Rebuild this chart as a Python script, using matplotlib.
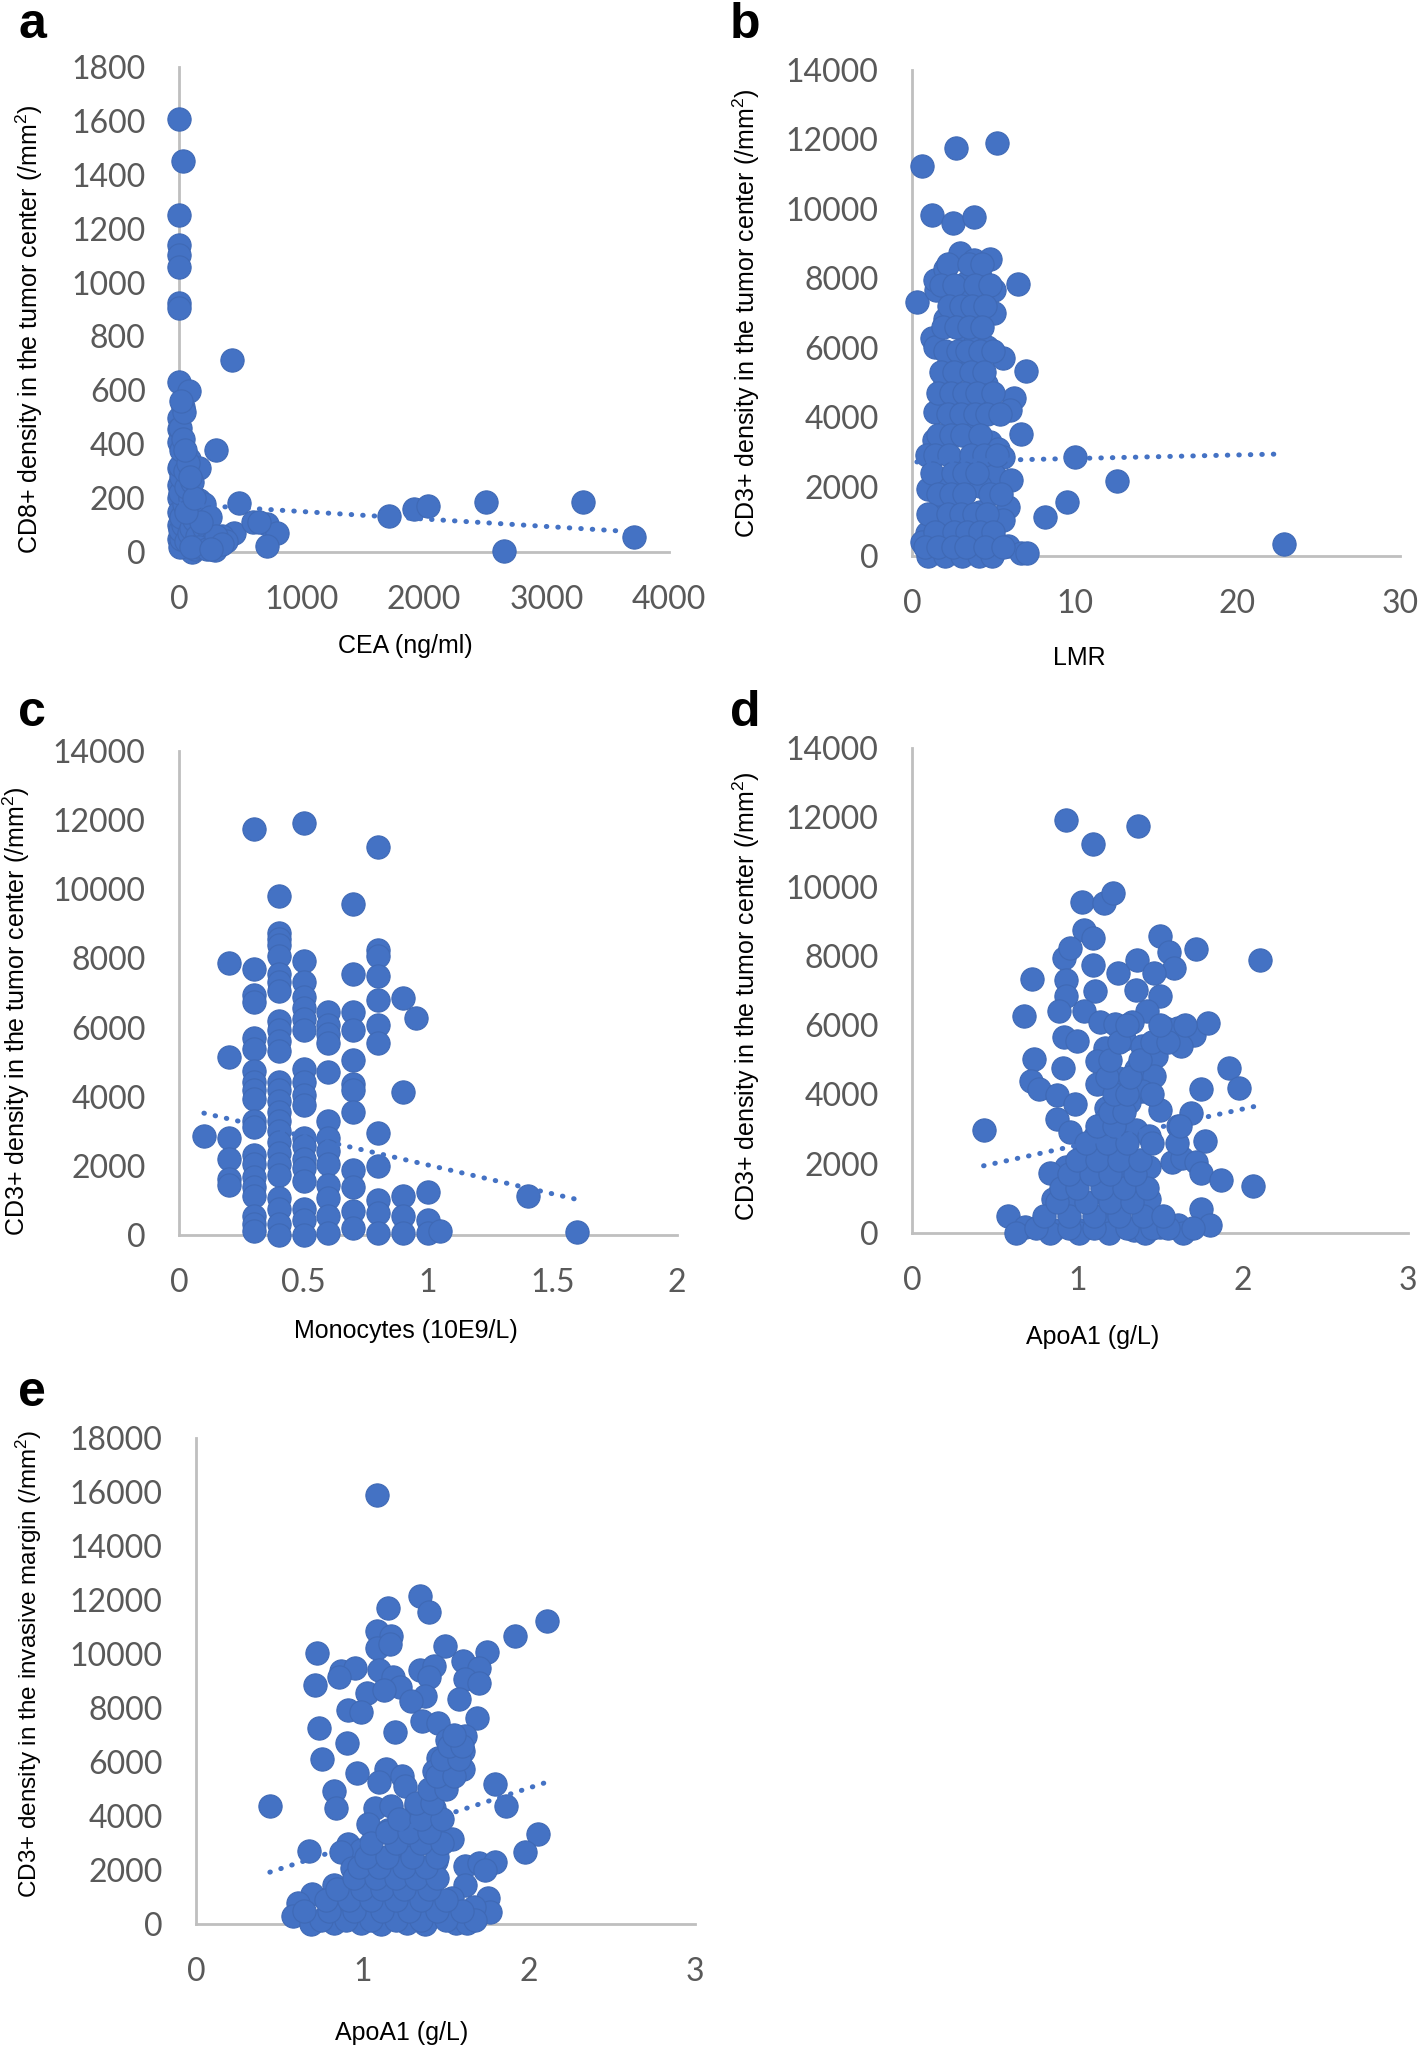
import numpy as np
import matplotlib.pyplot as plt

plt.rcParams['font.family'] = ['Liberation Sans', 'DejaVu Sans']
plt.rcParams['mathtext.default'] = 'regular'

BLUE = '#4472C4'
GREY_TXT = '#595959'
GREY_AX = '#BFBFBF'

# ---- panel a: CEA vs CD8+ (tumor center)
cea_x = [0, 30, 0, 0, 0, 0, 0, 0, 430, 0, 85, 30, 0, 0, 0, 40, 85, 160, 300,
         0, 0, 0, 0, 0, 0, 160, 493, 1718, 1922, 2033, 2508, 3295, 3711, 2657,
         449, 605, 716, 798, 716, 290, 104,
         10, 20, 5, 30, 15, 40, 10, 20, 5, 15, 10, 60, 80, 100, 120, 140, 90, 60,
         110, 150, 180, 200, 220, 250, 280, 130, 160, 230, 50, 70, 100, 40, 20,
         350, 380, 650, 200, 250, 300, 350, 260, 180, 60, 120, 90, 30, 50]
cea_y = [1607, 1451, 1250, 1141, 1101, 1056, 924, 905, 712, 632, 598, 538, 498,
         458, 410, 362, 345, 310, 378, 313, 250, 200, 150, 100, 50, 193, 182,
         132, 161, 169, 185, 185, 56, 5, 72, 112, 104, 72, 21, 8, 0,
         20, 50, 80, 100, 130, 180, 220, 280, 320, 380, 460, 40, 70, 90, 120,
         150, 200, 240, 260, 60, 30, 90, 140, 70, 40, 10, 20, 10, 300, 330, 20,
         520, 560, 60, 40, 110, 180, 130, 60, 30, 10, 110, 150, 200, 280, 420, 380]
cea_trend_x = [0, 3711]
cea_trend_y = [178, 75]

# ---- panel b: LMR vs CD3+ (tumor center)
lmr_x = [0.6, 2.7, 5.2, 1.25, 2.55, 3.8, 0.33, 1.5, 1.44, 2.05, 2.97, 3.8, 4.77,
         4.2, 3.4, 2.75, 5.05, 6.5, 2.0, 4.2, 5.05, 1.25, 1.44, 3.1, 3.9, 4.6,
         5.6, 7.0, 2.0, 3.1, 4.55, 2.55, 6.3, 6.0, 1.44, 3.1, 4.77, 6.7, 1.36,
         2.0, 3.66, 4.77, 5.3, 0.9, 10.0, 3.1, 5.6, 0.97, 2.0, 5.05, 6.1, 4.2,
         12.6, 9.5, 8.15, 1.44, 2.8, 5.9, 5.6, 4.2, 0.9, 0.6, 2.0, 3.66, 5.3,
         5.9, 6.7, 7.1, 22.85, 1.0, 2.0, 3.1, 4.1, 4.9,
         2.2, 3.5, 4.3, 1.8, 2.6, 3.9, 4.8, 2.3, 3.0, 3.7, 4.5, 1.9, 2.7, 3.5,
         4.3, 2.0, 2.8, 3.4, 4.2, 5.0, 1.8, 2.6, 3.6, 4.4, 1.6, 2.4, 3.2, 4.0,
         5.0, 2.2, 3.0, 3.9, 4.6, 5.4, 1.6, 2.4, 3.1, 4.2, 1.4, 2.3, 3.6, 4.4,
         5.2, 1.2, 2.5, 3.2, 4.0, 1.6, 2.4, 3.2, 4.8, 5.5, 1.0, 2.2, 3.0, 3.8,
         4.6, 1.4, 2.6, 3.4, 4.2, 5.0, 0.8, 1.6, 2.5, 3.3, 4.5, 5.6]
lmr_y = [11240, 11750, 11900, 9810, 9590, 9775, 7310, 7675, 7960, 8275, 8740,
         8525, 8560, 8025, 7900, 7525, 7650, 7840, 6840, 7025, 7000, 6275, 6025,
         6525, 6150, 6025, 5710, 5340, 5025, 5400, 4960, 4650, 4550, 4210, 4150,
         4025, 4150, 3525, 3340, 3150, 3525, 3275, 3090, 2900, 2860, 2650, 2840,
         1940, 2150, 2340, 2175, 2025, 2150, 1560, 1110, 1210, 1525, 1400, 1025,
         1275, 650, 400, 525, 650, 340, 275, 90, 90, 360, 0, 0, 0, 0, 0,
         8400, 8400, 8400, 7800, 7800, 7800, 7800, 7200, 7200, 7200, 7200, 6600,
         6600, 6600, 6600, 5900, 5900, 5900, 5900, 5900, 5300, 5300, 5300, 5300,
         4700, 4700, 4700, 4700, 4700, 4100, 4100, 4100, 4100, 4100, 3500, 3500,
         3500, 3500, 2900, 2900, 2900, 2900, 2900, 2400, 2400, 2400, 2400, 1800,
         1800, 1800, 1800, 1800, 1200, 1200, 1200, 1200, 1200, 700, 700, 700, 700,
         700, 250, 250, 250, 250, 250, 250]
lmr_trend_x = [0.3, 22.85]
lmr_trend_y = [2710, 2940]

# ---- panel c: monocytes vs CD3+ (tumor center)
mono_x = ([0.1] + [0.2] * 6 + [0.3] * 20 + [0.4] * 26 + [0.5] * 19 + [0.6] * 13
          + [0.7] * 12 + [0.8] * 12 + [0.9] * 5 + [0.95] + [1.0] * 3 + [1.05, 1.4, 1.6])
mono_y = [2875,
          7875, 5150, 2810, 2190, 1625, 1440,
          11750, 7690, 6940, 6750, 5690, 5375, 4750, 4440, 4190, 3940, 3310, 3125,
          2310, 2060, 1690, 1375, 1125, 560, 310, 125,
          9810, 8750, 8560, 8375, 8060, 7560, 7310, 7060, 6190, 5940, 5625, 5310,
          4440, 4190, 3875, 3560, 3310, 3000, 2690, 2375, 2060, 1750, 1060, 750,
          310, 0,
          11910, 7940, 7310, 6875, 6560, 6250, 5940, 4810, 4440, 4060, 3750, 2810,
          2560, 2190, 1940, 1560, 750, 440, 0,
          6440, 6060, 5810, 5560, 4710, 3310, 2810, 2440, 2060, 1440, 1060, 560, 60,
          9560, 7560, 6440, 5940, 5060, 4375, 4190, 3560, 1875, 1375, 690, 190,
          11220, 8250, 8060, 7500, 6810, 6060, 5560, 2940, 2000, 1000, 625, 60,
          6850, 4150, 1125, 560, 60,
          6275,
          1250, 440, 60,
          125, 1125, 90]
mono_trend_x = [0.1, 1.6]
mono_trend_y = [3525, 1025]

# ---- panel d: ApoA1 vs CD3+ (tumor center)
apo_d_x = [0.93, 1.367, 1.094, 1.026, 1.163, 1.217, 1.04, 1.094, 0.918, 0.958,
           0.727, 0.93, 1.094, 1.244, 1.108, 1.358, 1.497, 1.557, 1.585, 1.462,
           1.715, 2.107, 0.93, 0.89, 1.04, 0.68, 1.353, 1.497, 1.42, 1.14, 1.23,
           1.33, 0.918, 1.0, 1.53, 1.61, 1.705, 1.63, 1.79, 1.17, 1.28, 1.39,
           0.74, 0.912, 1.12, 1.475, 1.92, 0.72, 0.77, 0.877, 1.12, 1.244, 1.353,
           1.462, 1.39, 1.748, 1.98, 0.986, 1.176, 1.31, 0.877, 1.176, 1.497,
           1.69, 1.61, 0.433, 0.958, 1.108, 1.258, 1.353, 1.435, 1.775, 1.04,
           1.23, 0.93, 0.836, 1.435, 1.57, 1.633, 1.72, 1.748, 1.87, 2.06, 1.094,
           1.31, 0.85, 0.985, 1.176, 1.39, 1.435, 0.583, 1.748, 0.686, 0.85,
           1.013, 1.176, 1.34, 1.5, 1.61, 1.8, 0.63, 0.836, 1.01, 1.19, 1.41, 1.64,
           0.75, 0.95, 1.1, 1.3, 1.45, 1.55, 1.7, 0.8, 0.95, 1.1, 1.25, 1.4, 1.52,
           0.88, 1.05, 1.2, 1.33, 0.9, 1.0, 1.15, 1.28, 1.42, 0.95, 1.08, 1.2,
           1.35, 1.0, 1.12, 1.25, 1.38, 1.05, 1.18, 1.3, 1.45, 1.6, 1.12, 1.22,
           1.62, 1.2, 1.28, 1.22, 1.3, 1.45, 1.18, 1.32, 1.2, 1.38, 1.25, 1.45,
           1.55, 1.3, 1.5, 1.65]
apo_d_y = [11910, 11750, 11225, 9560, 9540, 9810, 8750, 8510, 7950, 8225, 7325,
           7290, 7725, 7500, 6975, 7875, 8575, 8100, 7660, 7500, 8200, 7875, 6850,
           6410, 6410, 6260, 7010, 6850, 6410, 6100, 6040, 6100, 5660, 5540, 5910,
           5910, 5725, 5410, 6060, 5350, 5600, 5410, 5010, 4750, 4975, 5100, 4775,
           4390, 4160, 3975, 4290, 4475, 4725, 4540, 4100, 4160, 4200, 3725, 3600,
           3790, 3290, 3290, 3540, 3475, 3100, 2975, 2910, 2790, 2910, 2975, 2790,
           2660, 2350, 2475, 1910, 1725, 1910, 2040, 2160, 2040, 1725, 1540, 1350,
           1725, 1850, 975, 975, 1100, 1225, 975, 500, 700, 160, 100, 100, 225,
           100, 160, 225, 225, 0, 0, 0, 0, 0, 0,
           150, 150, 150, 150, 150, 150, 150, 500, 500, 500, 500, 500, 500,
           900, 900, 900, 900, 1300, 1300, 1300, 1300, 1300, 1700, 1700, 1700,
           1700, 2100, 2100, 2100, 2100, 2600, 2600, 2600, 2600, 2600, 3100, 3100,
           3100, 3500, 3500, 4000, 4000, 4000, 4500, 4500, 5000, 5000, 5500, 5500,
           5500, 6000, 6000, 6000]
apo_d_trend_x = [0.433, 2.107]
apo_d_trend_y = [1940, 3690]

# ---- panel e: ApoA1 vs CD3+ (invasive margin)
apo_e_x = [1.089, 1.348, 1.40, 1.157, 2.11, 1.92, 1.089, 1.17, 1.089, 1.165,
           1.497, 1.75, 0.73, 1.606, 1.70, 1.62, 1.70, 0.87, 0.953, 0.857, 1.348,
           1.43, 1.40, 1.10, 1.185, 1.225, 0.716, 1.03, 1.13, 1.375, 1.58, 1.29,
           0.912, 0.994, 1.36, 1.457, 1.69, 0.74, 1.198, 1.62, 1.51, 1.606, 0.907,
           0.757, 1.457, 1.606, 1.43, 1.51, 0.967, 1.143, 1.24, 1.10, 1.255, 1.797,
           0.83, 0.844, 0.444, 1.865, 1.43, 1.32, 1.075, 1.17, 1.035, 1.157, 1.32,
           1.43, 2.056, 1.54, 0.912, 0.994, 0.87, 0.68, 1.975, 1.21, 1.29, 1.44,
           1.62, 1.70, 1.80, 1.74, 1.62, 0.94, 1.075, 1.21, 1.43, 0.83, 0.994,
           1.157, 1.32, 0.70, 0.613, 1.757, 1.54, 1.40, 0.585, 0.69, 0.83, 0.994,
           1.11, 1.266, 1.375, 1.565, 1.63, 1.77, 0.885, 1.075, 1.24, 1.40, 1.674,
           0.75, 0.9, 1.05, 1.2, 1.35, 1.5, 1.68, 0.65, 0.8, 0.95, 1.12, 1.28,
           1.45, 1.6, 0.78, 0.92, 1.05, 1.2, 1.35, 1.5, 0.85, 1.0, 1.12, 1.25,
           1.4, 0.95, 1.08, 1.2, 1.32, 1.45, 0.98, 1.1, 1.25, 1.38, 1.02, 1.15,
           1.3, 1.45, 1.05, 1.2, 1.35, 1.48, 1.15, 1.28, 1.4, 1.22, 1.35, 1.48,
           1.32, 1.42, 1.4, 1.5, 1.45, 1.55, 1.48, 1.58, 1.52, 1.6, 1.55]
apo_e_y = [15885, 12140, 11555, 11720, 11230, 10680, 10870, 10660, 10220, 10385,
           10300, 10060, 10025, 9730, 9490, 9080, 8920, 9375, 9490, 9160, 9410,
           9570, 9160, 9410, 9160, 8790, 8870, 8560, 8675, 8430, 8350, 8270, 7940,
           7860, 7535, 7455, 7620, 7260, 7100, 6965, 6800, 6400, 6690, 6120, 6150,
           5745, 5665, 5340, 5580, 5745, 5500, 5260, 5095, 5175, 4930, 4280, 4360,
           4360, 4280, 4360, 4280, 4360, 3710, 3465, 3710, 3630, 3350, 3140, 2980,
           2735, 2650, 2700, 2650, 2900, 2735, 2330, 2165, 2245, 2280, 2000, 1430,
           2085, 2245, 2000, 1760, 1430, 1270, 1430, 1510, 1105, 780, 945, 945, 860,
           290, 0, 50, 50, 0, 50, 0, 50, 50, 455, 620, 540, 700, 540, 620,
           150, 150, 150, 150, 150, 150, 150, 500, 500, 500, 500, 500, 500, 500,
           900, 900, 900, 900, 900, 900, 1300, 1300, 1300, 1300, 1300, 1700, 1700,
           1700, 1700, 1700, 2100, 2100, 2100, 2100, 2500, 2500, 2500, 2500, 3000,
           3000, 3000, 3000, 3400, 3400, 3400, 3900, 3900, 3900, 4500, 4500, 5000,
           5000, 5500, 5500, 6100, 6100, 6600, 6600, 7000]
apo_e_trend_x = [0.444, 2.11]
apo_e_trend_y = [1920, 5255]

W, H = 1418, 2048
fig = plt.figure(figsize=(W / 100, H / 100), dpi=100)


def panel(box, xs, ys, tx, ty, xlim, xticks, ylim, yticks, xlabel, xlpos,
          ylabel, ylpos, letter, lpos, ylsize=18):
    l, r, b, t = box
    ax = fig.add_axes([l / W, 1 - b / H, (r - l) / W, (b - t) / H])
    ax.scatter(xs, ys, s=280, color=BLUE, edgecolor='#3F69B5', linewidth=0.8,
               zorder=3, clip_on=False)
    ax.plot(tx, ty, color=BLUE, linestyle=(0, (0.1, 2.2)), linewidth=3.6,
            dash_capstyle='round', zorder=4)
    ax.set_xlim(*xlim)
    ax.set_ylim(*ylim)
    ax.set_xticks(xticks)
    ax.set_yticks(yticks)
    ax.set_xticklabels([f'{v:g}' for v in xticks])
    ax.set_yticklabels([f'{v:g}' for v in yticks])
    for s in ['top', 'right']:
        ax.spines[s].set_visible(False)
    for s in ['left', 'bottom']:
        ax.spines[s].set_color(GREY_AX)
        ax.spines[s].set_linewidth(2)
        ax.spines[s].set_zorder(1)
    ax.tick_params(length=0, labelsize=23, labelcolor=GREY_TXT, pad=24)
    for lab in ax.get_xticklabels() + ax.get_yticklabels():
        lab.set_family(['Lato', 'DejaVu Sans'])
    ax.patch.set_alpha(0)
    fig.text(xlpos[0] / W, 1 - xlpos[1] / H, xlabel, fontsize=18,
             ha='center', va='center')
    fig.text(ylpos[0] / W, 1 - ylpos[1] / H, ylabel, fontsize=ylsize,
             ha='center', va='center', rotation=90)
    fig.text(lpos[0] / W, 1 - lpos[1] / H, letter, fontsize=36, fontweight='bold',
             va='top', ha='left')
    return ax


tc = 'CD3+ density in the tumor center (/mm$^2$)'
panel((179, 669, 552, 67), cea_x, cea_y, cea_trend_x, cea_trend_y,
      (0, 4000), [0, 1000, 2000, 3000, 4000], (0, 1800), list(range(0, 1801, 200)),
      'CEA (ng/ml)', (405, 646),
      'CD8+ density in the tumor center (/mm$^2$)', (29, 329), 'a', (18, 2))
panel((912, 1400, 556, 70), lmr_x, lmr_y, lmr_trend_x, lmr_trend_y,
      (0, 30), [0, 10, 20, 30], (0, 14000), list(range(0, 14001, 2000)),
      'LMR', (1079, 658), tc, (746, 313), 'b', (730, 2))
panel((179, 677, 1235, 751), mono_x, mono_y, mono_trend_x, mono_trend_y,
      (0, 2), [0, 0.5, 1, 1.5, 2], (0, 14000), list(range(0, 14001, 2000)),
      'Monocytes (10E9/L)', (406, 1331), tc, (16, 1011), 'c', (18, 690))
panel((912, 1408, 1233, 748), apo_d_x, apo_d_y, apo_d_trend_x, apo_d_trend_y,
      (0, 3), [0, 1, 2, 3], (0, 14000), list(range(0, 14001, 2000)),
      'ApoA1 (g/L)', (1093, 1337), tc, (746, 996), 'd', (730, 690))
panel((196, 695, 1924, 1438), apo_e_x, apo_e_y, apo_e_trend_x, apo_e_trend_y,
      (0, 3), [0, 1, 2, 3], (0, 18000), list(range(0, 18001, 2000)),
      'ApoA1 (g/L)', (402, 2033),
      'CD3+ density in the invasive margin (/mm$^2$)', (29, 1664), 'e', (18, 1370),
      ylsize=17.5)

fig.savefig('out.png', dpi=100)
